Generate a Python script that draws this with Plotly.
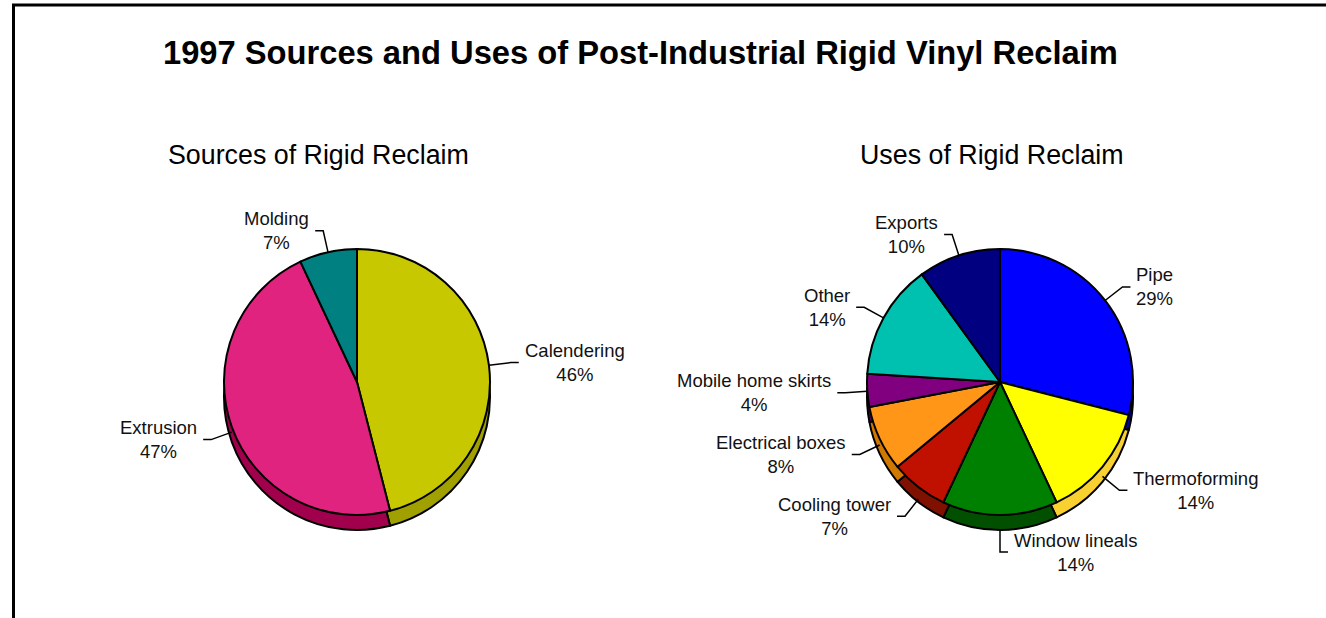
import math
import plotly.graph_objects as go

# ---- data -------------------------------------------------------------
source_labels = ["Calendering", "Extrusion", "Molding"]
source_values = [46, 47, 7]
source_colors = ["#C8C800", "#E0237F", "#008080"]
source_sides = ["#A0A000", "#A0004C", "#005A5A"]

use_labels = ["Pipe", "Thermoforming", "Window lineals", "Cooling tower",
              "Electrical boxes", "Mobile home skirts", "Other", "Exports"]
use_values = [29, 14, 14, 7, 8, 4, 14, 10]
use_colors = ["#0000FF", "#FFFF00", "#008000", "#C01000",
              "#FF9618", "#800080", "#00C0B0", "#000080"]
use_sides = ["#0000A0", "#F8D030", "#005000", "#801000",
             "#D07800", "#500050", "#008070", "#000050"]

title_text = "1997 Sources and Uses of Post-Industrial Rigid Vinyl Reclaim"
left_title = "Sources of Rigid Reclaim"
right_title = "Uses of Rigid Reclaim"

# ---- layout geometry (pixels) -----------------------------------------
W, H = 1326, 618
R = 133          # pie radius
DEPTH = 15       # thickness of the pie edge
FONT = "Liberation Sans, Arial, sans-serif"


def fx(x):
    return x / W


def fy(y):
    return 1 - y / H


def pie_domain(cx, cy):
    return dict(x=[fx(cx - R), fx(cx + R)], y=[fy(cy + R), fy(cy - R)])


fig = go.Figure()


def add_pie(cx, cy, labels, values, colors, sides):
    common = dict(labels=labels, values=values, sort=False,
                  direction="clockwise", rotation=0, textinfo="none",
                  hoverinfo="skip", showlegend=False)
    # darker copy sitting a little lower forms the visible edge
    fig.add_trace(go.Pie(domain=pie_domain(cx, cy + DEPTH),
                         marker=dict(colors=sides,
                                     line=dict(color="black", width=2)),
                         **common))
    fig.add_trace(go.Pie(domain=pie_domain(cx, cy),
                         marker=dict(colors=colors,
                                     line=dict(color="black", width=2)),
                         **common))


def add_labels(cx, cy, labels, values, lead=22):
    total = sum(values)
    cum = 0
    for lab, v in zip(labels, values):
        mid = (cum + v / 2) / total * 2 * math.pi
        cum += v
        s, c = math.sin(mid), math.cos(mid)
        x0 = cx + R * s
        y0 = cy - R * c + (DEPTH * -c if c < 0 else 0)
        x1 = x0 + lead * s
        y1 = y0 - lead * c
        side = 1 if s >= -1e-9 else -1
        x2 = x1 + 8 * side
        fig.add_shape(type="path", xref="paper", yref="paper",
                      path=f"M {fx(x0)},{fy(y0)} L {fx(x1)},{fy(y1)} L {fx(x2)},{fy(y1)}",
                      line=dict(color="black", width=1.5))
        fig.add_annotation(x=fx(x2 + 4 * side), y=fy(y1), xref="paper", yref="paper",
                           text=f"{lab}<br>{v}%", showarrow=False,
                           xanchor="left" if side > 0 else "right", yanchor="middle",
                           align="center",
                           font=dict(family=FONT, size=18.5, color="#111111"))


add_pie(357, 382, source_labels, source_values, source_colors, source_sides)
add_pie(1000, 382, use_labels, use_values, use_colors, use_sides)
add_labels(357, 382, source_labels, source_values)
add_labels(1000, 382, use_labels, use_values)

# frame lines along the top and left edges
fig.add_shape(type="line", xref="paper", yref="paper",
              x0=fx(12), x1=1, y0=fy(5), y1=fy(5), line=dict(color="black", width=3))
fig.add_shape(type="line", xref="paper", yref="paper",
              x0=fx(13.5), x1=fx(13.5), y0=fy(4), y1=0, line=dict(color="black", width=3))

fig.add_annotation(x=fx(640), y=fy(52), xref="paper", yref="paper", text=f"<b>{title_text}</b>",
                   showarrow=False, xanchor="center", yanchor="middle",
                   font=dict(family=FONT, size=32.7, color="black"))
fig.add_annotation(x=fx(318), y=fy(155), xref="paper", yref="paper", text=left_title,
                   showarrow=False, xanchor="center", yanchor="middle",
                   font=dict(family=FONT, size=26.8, color="black"))
fig.add_annotation(x=fx(992), y=fy(155), xref="paper", yref="paper", text=right_title,
                   showarrow=False, xanchor="center", yanchor="middle",
                   font=dict(family=FONT, size=26.8, color="black"))

fig.update_layout(width=W, height=H, autosize=False,
                  margin=dict(l=0, r=0, t=0, b=0),
                  paper_bgcolor="white", plot_bgcolor="white")

fig.write_html("out.html")
